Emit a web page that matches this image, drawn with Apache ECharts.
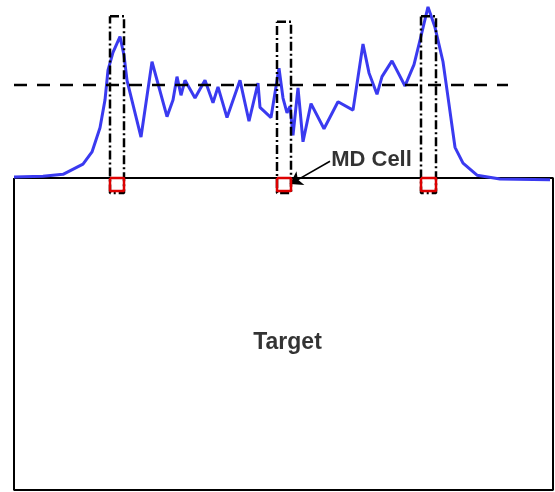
<!DOCTYPE html>
<html>
<head>
<meta charset="utf-8">
<script src="https://cdn.jsdelivr.net/npm/echarts@6/dist/echarts.min.js"></script>
<style>html,body{margin:0;padding:0;background:#fff}#c{width:555px;height:492px}</style>
</head>
<body>
<div id="c"></div>
<script>
// Position along the domain (arbitrary units) and normalised density (bulk = 1)
var positions = [14,43,63,83,92,100,105,108,113,120,124,127,141,152,167,173,177,181,185,195,205,213,218,227,240,249,258,260,271,279,283,287,290,293,298,303,311,324,338,353,363,369,377,382,392,405,414,422,428,435,443,448,455,463,477,500,550];
var density = [0.01,0.02,0.04,0.15,0.28,0.54,0.84,1.16,1.35,1.52,1.32,1.05,0.44,1.25,0.66,0.84,1.09,0.89,1.05,0.86,1.05,0.81,0.98,0.65,1.05,0.61,1.02,0.76,0.65,1.18,0.86,0.70,0.77,0.46,0.97,0.39,0.80,0.53,0.82,0.73,1.44,1.13,0.90,1.09,1.26,0.99,1.22,1.57,1.84,1.62,1.25,0.87,0.33,0.16,0.03,-0.01,-0.02];
var bulkDensity = 1.0;
var bulkLineRange = [14, 508];
var targetX = [14, 553];
var targetY = [0, -3.355];
var mdCells = [[110,124],[277,291],[421,436]];
var boxTops = [1.74, 1.68, 1.74];
var boxBottom = -0.16;
var cellBottom = -0.14;
var cellLabel = 'MD Cell';
var targetLabel = 'Target';

function rectPath(x0, x1, y0, y1) {
  return [[x0,y0],[x1,y0],[x1,y1],[x0,y1],[x0,y0]];
}

var series = [];
series.push({
  type: 'line', data: rectPath(targetX[0], targetX[1], targetY[0], targetY[1]),
  symbol: 'none', lineStyle: {color: '#000', width: 2}, silent: true, animation: false, z: 2
});
series.push({
  type: 'line', data: positions.map(function (p, i) { return [p, density[i]]; }),
  symbol: 'none', lineStyle: {color: '#3a3af0', width: 3}, silent: true, animation: false, z: 3
});
series.push({
  type: 'line', data: [[bulkLineRange[0], bulkDensity], [bulkLineRange[1], bulkDensity]],
  symbol: 'none', lineStyle: {color: '#000', width: 2.5, type: [13, 10]}, silent: true, animation: false, z: 4
});
mdCells.forEach(function (c, i) {
  series.push({
    type: 'line', data: rectPath(c[0], c[1], boxTops[i], boxBottom),
    symbol: 'none', lineStyle: {color: '#000', width: 2.5, type: [9, 3, 2, 3]}, silent: true, animation: false, z: 4
  });
});
mdCells.forEach(function (c) {
  series.push({
    type: 'line', data: rectPath(c[0], c[1], 0, cellBottom),
    symbol: 'none',
    lineStyle: {color: '#dd0000', width: 2.5}, silent: true, animation: false, z: 6
  });
});
series.push({
  type: 'scatter', symbolSize: 0, animation: false, z: 7,
  data: [
    {value: [371.5, 0.19], name: cellLabel, label: {fontSize: 22}},
    {value: [287.5, -1.77], name: targetLabel, label: {fontSize: 23}}
  ],
  label: {show: true, position: 'inside', formatter: '{b}', color: '#000', textBorderWidth: 0,
    fontFamily: 'Liberation Sans, Arial, sans-serif', fontWeight: 'bold', fontSize: 22},
  markLine: {
    silent: true, animation: false, symbol: ['none', 'arrow'], symbolSize: 12,
    lineStyle: {color: '#000', width: 1.5, type: 'solid'}, label: {show: false},
    data: [[{coord: [330, 0.18]}, {coord: [290, -0.065]}]]
  }
});

var chart = echarts.init(document.getElementById('c'));
chart.setOption({
  backgroundColor: '#fff',
  animation: false,
  grid: {left: 0, right: 0, top: 0, bottom: 0},
  xAxis: {type: 'value', min: 0, max: 555, show: false},
  yAxis: {type: 'value', min: -3.376, max: 1.914, show: false},
  series: series
});
</script>
</body>
</html>
